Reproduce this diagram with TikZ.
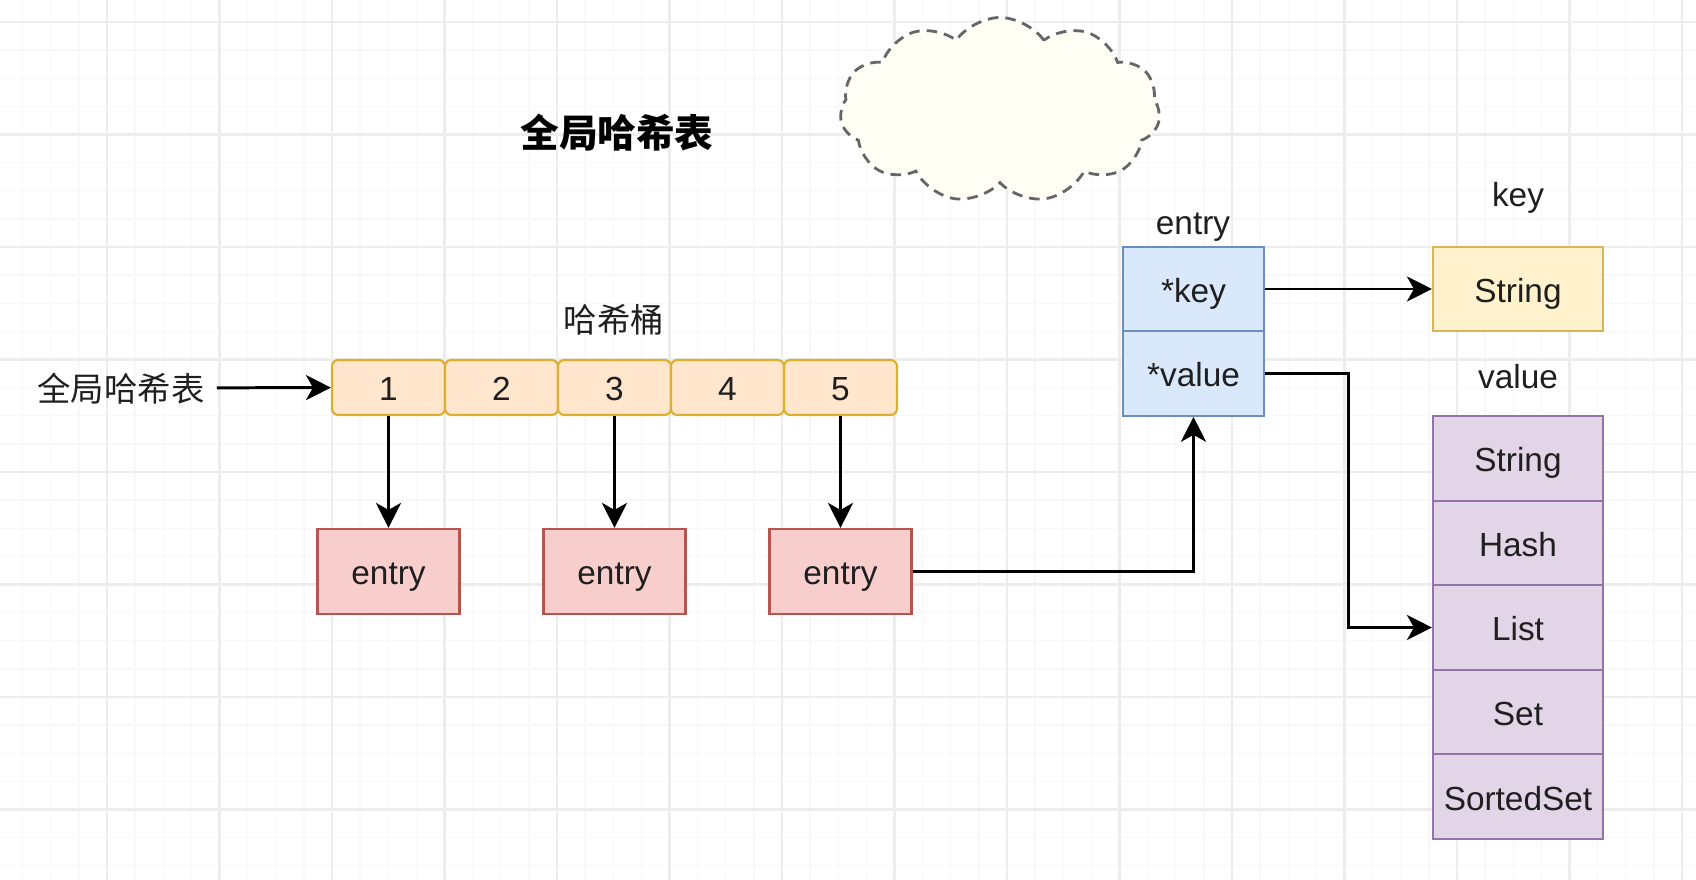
\documentclass[tikz,border=0pt]{standalone}
\usepackage{fontspec}
\setmainfont{Liberation Sans}
\newfontfamily\cjk{Noto Sans CJK SC}
\usetikzlibrary{arrows.meta, positioning, calc, shapes.symbols}
\definecolor{bucket}{HTML}{FFE6CC}
\definecolor{bucketline}{HTML}{DDAE30}
\definecolor{entryfill}{HTML}{F8CECC}
\definecolor{entryline}{HTML}{B85450}
\definecolor{structfill}{HTML}{DAE8FC}
\definecolor{structline}{HTML}{6C8EBF}
\definecolor{keyfill}{HTML}{FFF2CC}
\definecolor{keyline}{HTML}{D6B656}
\definecolor{typefill}{HTML}{E1D5E7}
\definecolor{typeline}{HTML}{9673A6}
\definecolor{gridmajor}{HTML}{EDEDED}
\definecolor{gridminor}{HTML}{F8F8F8}

\begin{document}
\begin{tikzpicture}[
    font=\fontsize{9.5}{11}\selectfont,
    every node/.append style={text height=7.6pt, text depth=0pt, text=black!88},
    cell/.style={draw=bucketline, fill=bucket, rounded corners=1.8pt, minimum width=1.13cm, minimum height=0.55cm, inner sep=0pt, line width=0.6pt},
    entrybox/.style={draw=entryline, fill=entryfill, minimum width=1.42cm, minimum height=0.85cm, inner sep=0pt, line width=0.6pt},
    field/.style={draw=structline, fill=structfill, minimum width=1.41cm, minimum height=0.845cm, inner sep=0pt, line width=0.6pt},
    typebox/.style={draw=typeline, fill=typefill, minimum width=1.70cm, minimum height=0.846cm, inner sep=0pt, line width=0.6pt},
    arrow/.style={-{Stealth[length=0.25cm, width=0.25cm, inset=0.07cm]}, line width=0.85pt}
]

\useasboundingbox (0,0) rectangle (16.96,8.80);

% Grid
\draw[gridminor, line width=0.4pt, shift={(1.07,0.705)}, step=0.28125] (-1.07,-0.705) grid (15.89,8.095);
\draw[gridmajor, line width=0.6pt, shift={(1.07,0.705)}, step=1.125] (-1.07,-0.705) grid (15.89,8.095);

% Titulo y nube
\node[font=\cjk\fontsize{11}{13}\selectfont\bfseries, text height=, text depth=, text=black] (title) at (6.17, 7.47) {全局哈希表};
\node[cloud, cloud puffs=11, cloud puff arc=110, aspect=1.7, draw=black!60, densely dashed, line width=0.8pt, fill=yellow!4, minimum width=3.2cm, minimum height=1.85cm] (mark) at (10.0, 7.70) {};

% Hash buckets
\node[font=\cjk\fontsize{9.5}{11}\selectfont] (bucketname) at (6.14, 5.61) {哈希桶};
\node[font=\cjk\fontsize{9.5}{11}\selectfont] (table) at (1.21, 4.92) {全局哈希表};
\foreach \i in {1,...,5}
    \node[cell] (c\i) at (3.885+1.13*\i-1.13, 4.925) {\i};

\draw[arrow] (table) -- (c1);

% Entries
\node[entrybox] (e1) at (3.885, 3.085) {entry};
\node[entrybox] (e3) at (6.145, 3.085) {entry};
\node[entrybox] (e5) at (8.405, 3.085) {entry};

\draw[arrow] (c1) -- (e1);
\draw[arrow] (c3) -- (e3);
\draw[arrow] (c5) -- (e5);

% Entry struct
\node (entryname) at (11.93, 6.59) {entry};
\node[field] (key) at (11.935, 5.91) {*key};
\node[field] (val) at (11.935, 5.065) {*value};

\draw[arrow] (e5.east) -| (val.south);

% Key / value types
\node (keyname) at (15.18, 6.87) {key};
\node[typebox, draw=keyline, fill=keyfill] (str) at (15.18, 5.91) {String};
\node (valname) at (15.18, 5.05) {value};
\node[typebox] (t1) at (15.18, 4.217) {String};
\node[typebox] (t2) at (15.18, 3.371) {Hash};
\node[typebox] (t3) at (15.18, 2.525) {List};
\node[typebox] (t4) at (15.18, 1.679) {Set};
\node[typebox] (t5) at (15.18, 0.833) {SortedSet};

\draw[arrow] (key) -- (str);
\draw[arrow] (val.east) -| ($(val.east)!0.5!(t3.west)$) |- (t3.west);

\end{tikzpicture}
\end{document}
